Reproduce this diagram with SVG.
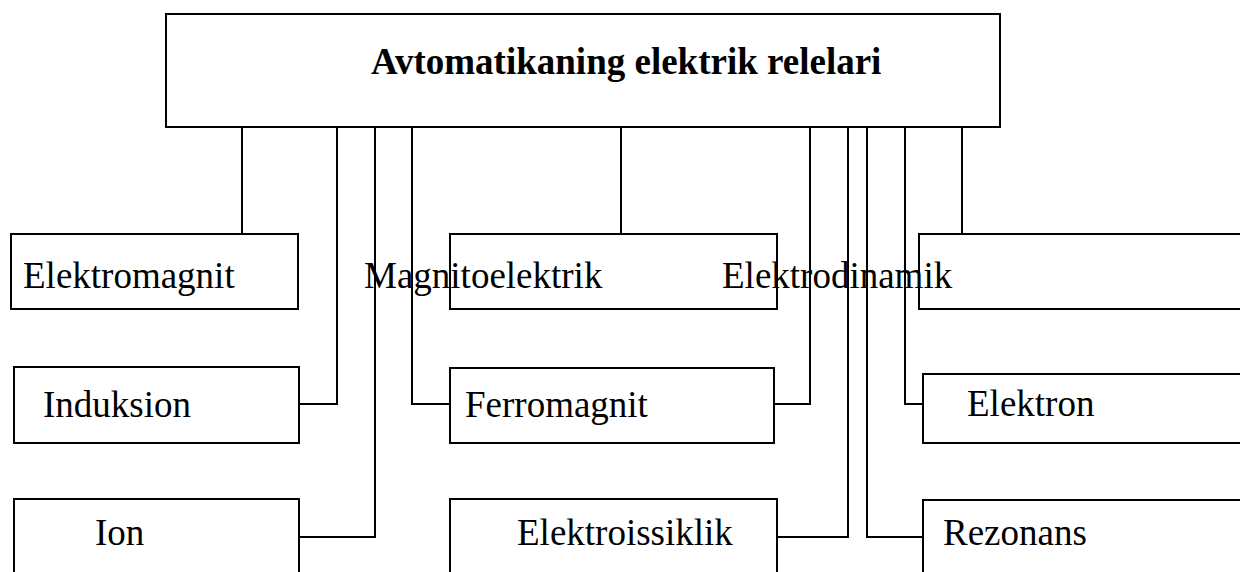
<svg xmlns="http://www.w3.org/2000/svg" width="1240" height="572" viewBox="0 0 1240 572">
<style>
.box{fill:#fff;stroke:#000;stroke-width:2}
.lbl{font-family:"Liberation Serif","Times New Roman",serif;font-size:37px;fill:#000}
.title{font-family:"Liberation Serif","Times New Roman",serif;font-size:37px;font-weight:bold;fill:#000}
.conn{fill:none;stroke:#000;stroke-width:2}
</style>
<rect width="1240" height="572" fill="#fff"/>
<g id="root">
<rect class="box" x="166" y="14" width="834" height="113"/>
<text class="title" x="371" y="74">Avtomatikaning elektrik relelari</text>
</g>
<g id="box-elektromagnit">
<rect class="box" x="11" y="234" width="287" height="75"/>
<text class="lbl" x="23" y="288">Elektromagnit</text>
</g>
<g id="box-mid-top">
<rect class="box" x="450" y="234" width="327" height="75"/>
</g>
<g id="box-right-top">
<rect class="box" x="919" y="234" width="340" height="75"/>
</g>
<g id="box-induksion">
<rect class="box" x="14" y="367" width="285" height="76"/>
<text class="lbl" x="43" y="417">Induksion</text>
</g>
<g id="box-ferromagnit">
<rect class="box" x="450" y="368" width="324" height="75"/>
<text class="lbl" x="465" y="417">Ferromagnit</text>
</g>
<g id="box-elektron">
<rect class="box" x="923" y="374" width="340" height="69"/>
<text class="lbl" x="967" y="416">Elektron</text>
</g>
<g id="box-ion">
<rect class="box" x="14" y="499" width="285" height="90"/>
<text class="lbl" x="95" y="545">Ion</text>
</g>
<g id="box-elektroissiklik">
<rect class="box" x="450" y="499" width="327" height="90"/>
<text class="lbl" x="517" y="545">Elektroissiklik</text>
</g>
<g id="box-rezonans">
<rect class="box" x="923" y="500" width="340" height="90"/>
<text class="lbl" x="943" y="545">Rezonans</text>
</g>
<g id="connectors">
<path class="conn" d="M242 127V234"/>
<path class="conn" d="M337 127V404H299"/>
<path class="conn" d="M375 127V537H299"/>
<path class="conn" d="M412 127V404H450"/>
<path class="conn" d="M621 127V234"/>
<path class="conn" d="M810 127V404H774"/>
<path class="conn" d="M848 127V537H777"/>
<path class="conn" d="M867 127V537H923"/>
<path class="conn" d="M905 127V404H923"/>
<path class="conn" d="M962 127V234"/>
</g>
<g id="label-magnitoelektrik">
<text class="lbl" x="364" y="288">Magnitoelektrik</text>
</g>
<g id="label-elektrodinamik">
<text class="lbl" x="722" y="288">Elektrodinamik</text>
</g>
</svg>
